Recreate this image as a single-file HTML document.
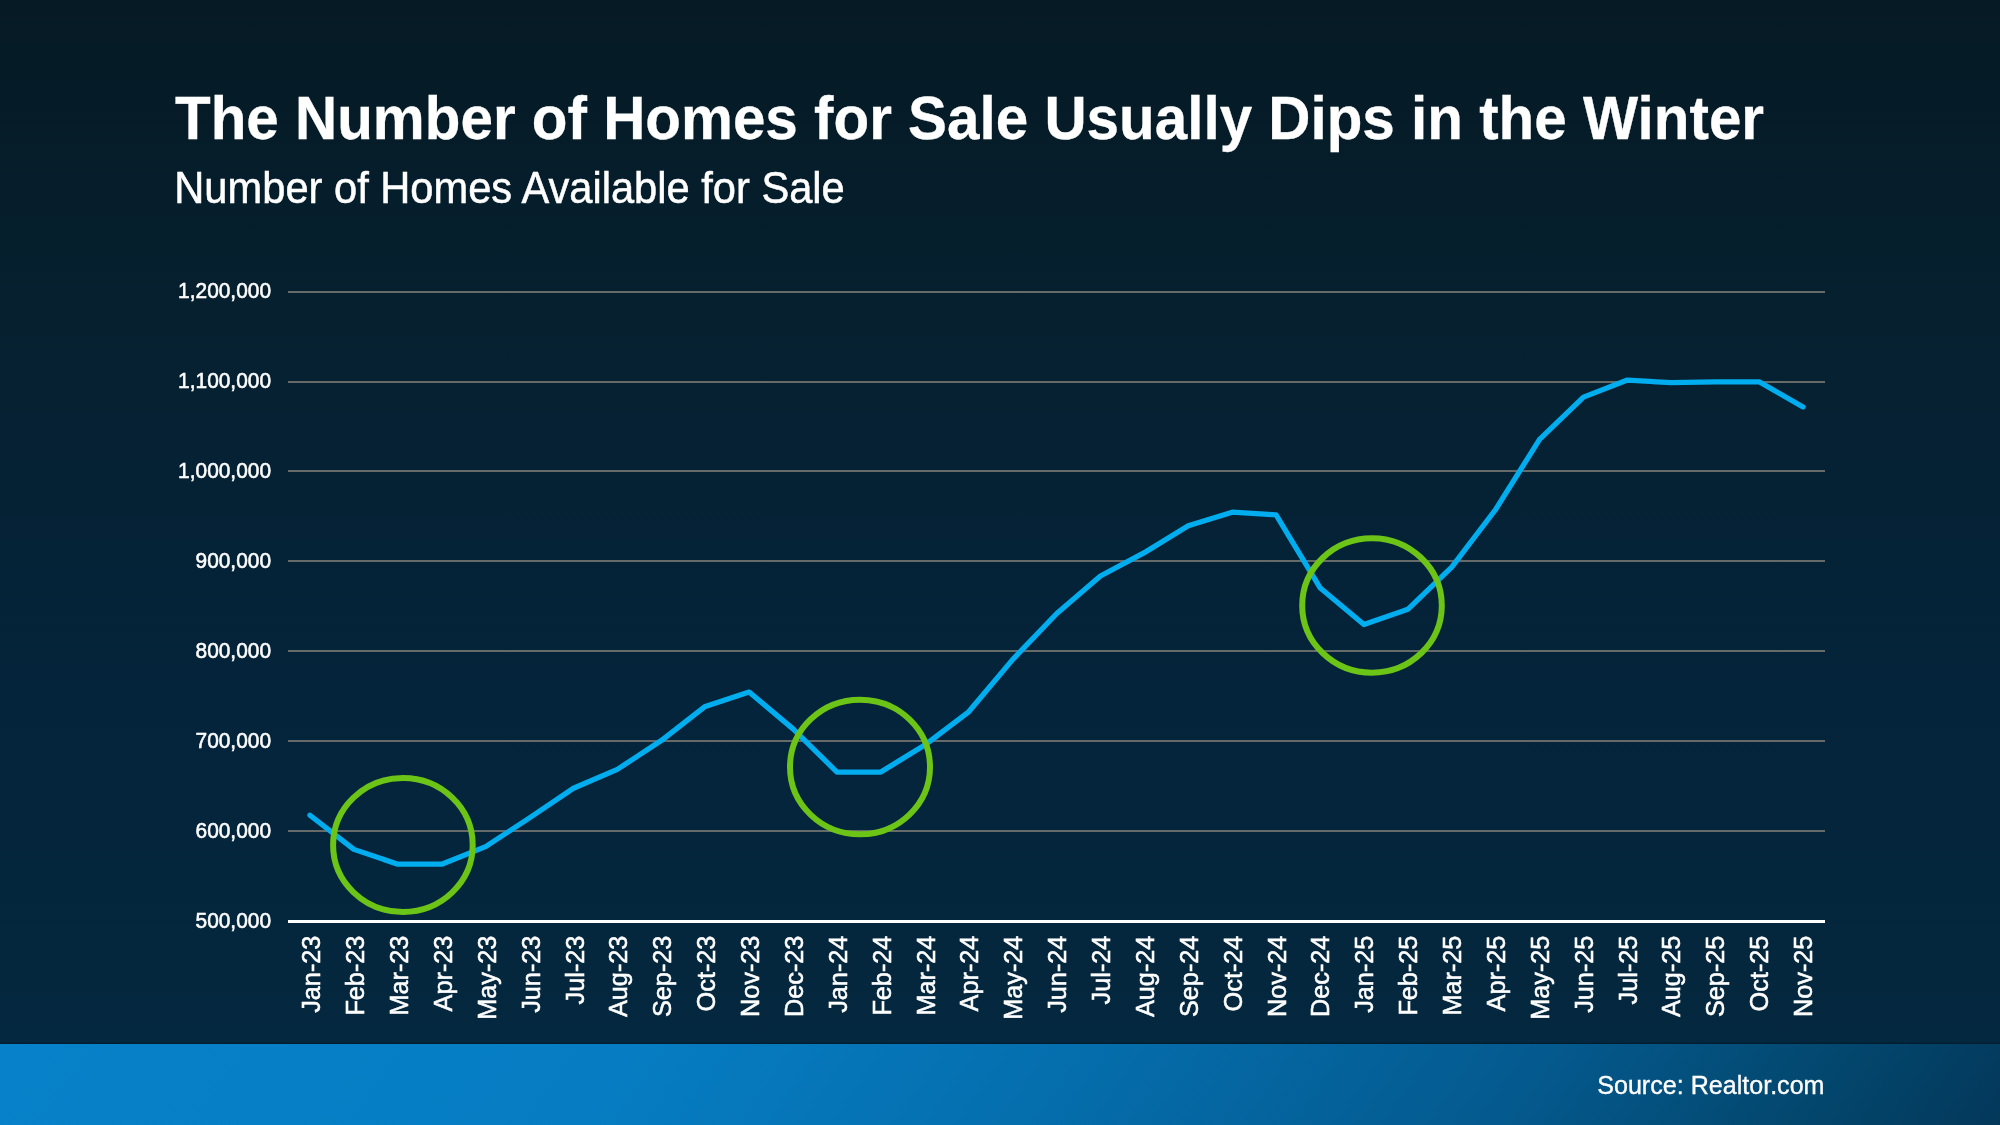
<!DOCTYPE html>
<html><head><meta charset="utf-8"><title>The Number of Homes for Sale Usually Dips in the Winter</title>
<style>
html,body{margin:0;padding:0;}
body{width:2000px;height:1125px;overflow:hidden;position:relative;
background:linear-gradient(180deg,#051a24 0px,#06202f 300px,#04243b 700px,#04283f 1044px);
font-family:"Liberation Sans",Arial,Helvetica,sans-serif;color:#fff;}
.bar{position:absolute;left:0;top:1044px;width:2000px;height:81px;
background:linear-gradient(125deg,#0781c9 0%,#067dc3 30%,#0570b0 50%,#045a8f 75%,#03476e 90%,#03385a 100%);
box-shadow:0 -1px 2px rgba(0,0,0,.35);}
svg{position:absolute;left:0;top:0;will-change:transform;}
text{fill:#fff;}
.t{font-weight:bold;font-size:58.4px;stroke:#fff;stroke-width:0.3px;}
.st{font-size:41.65px;stroke:#fff;stroke-width:0.5px;}
.yl{font-size:20.9px;text-anchor:end;stroke:#fff;stroke-width:0.55px;}
.xl{font-size:25.25px;text-anchor:end;stroke:#fff;stroke-width:0.55px;}
.g{stroke:#666a69;stroke-width:2;}
.ax{stroke:#fff;stroke-width:3;}
.ln{fill:none;stroke:#00adef;stroke-width:5.25;stroke-linejoin:round;stroke-linecap:round;}
.c{fill:none;stroke:#6cc417;stroke-width:6.0;}
.src{font-size:25.1px;text-anchor:end;stroke:#fff;stroke-width:0.35px;}
</style></head>
<body>
<div class="bar"></div>
<svg width="2000" height="1125" viewBox="0 0 2000 1125">
<text transform="translate(175,138.8) scale(1,1.04)" class="t">The Number of Homes for Sale Usually Dips in the Winter</text>
<text transform="translate(174.3,203) scale(1,1.065)" class="st">Number of Homes Available for Sale</text>
<line x1="288.0" x2="1825.0" y1="831.00" y2="831.00" class="g"/>
<line x1="288.0" x2="1825.0" y1="741.00" y2="741.00" class="g"/>
<line x1="288.0" x2="1825.0" y1="651.00" y2="651.00" class="g"/>
<line x1="288.0" x2="1825.0" y1="561.00" y2="561.00" class="g"/>
<line x1="288.0" x2="1825.0" y1="471.00" y2="471.00" class="g"/>
<line x1="288.0" x2="1825.0" y1="382.00" y2="382.00" class="g"/>
<line x1="288.0" x2="1825.0" y1="292.00" y2="292.00" class="g"/>
<line x1="288.0" x2="1825.0" y1="921.5" y2="921.5" class="ax"/>
<text transform="translate(271,927.50) scale(1,1.05)" class="yl">500,000</text>
<text transform="translate(271,837.61) scale(1,1.05)" class="yl">600,000</text>
<text transform="translate(271,747.73) scale(1,1.05)" class="yl">700,000</text>
<text transform="translate(271,657.84) scale(1,1.05)" class="yl">800,000</text>
<text transform="translate(271,567.96) scale(1,1.05)" class="yl">900,000</text>
<text transform="translate(271,478.07) scale(1,1.05)" class="yl">1,000,000</text>
<text transform="translate(271,388.19) scale(1,1.05)" class="yl">1,100,000</text>
<text transform="translate(271,298.30) scale(1,1.05)" class="yl">1,200,000</text>
<text transform="translate(320.36,935.6) rotate(-90) scale(1,1.0)" class="xl">Jan-23</text>
<text transform="translate(364.23,935.6) rotate(-90) scale(1,1.0)" class="xl">Feb-23</text>
<text transform="translate(408.10,935.6) rotate(-90) scale(1,1.0)" class="xl">Mar-23</text>
<text transform="translate(451.98,935.6) rotate(-90) scale(1,1.0)" class="xl">Apr-23</text>
<text transform="translate(495.85,935.6) rotate(-90) scale(1,1.0)" class="xl">May-23</text>
<text transform="translate(539.72,935.6) rotate(-90) scale(1,1.0)" class="xl">Jun-23</text>
<text transform="translate(583.60,935.6) rotate(-90) scale(1,1.0)" class="xl">Jul-23</text>
<text transform="translate(627.47,935.6) rotate(-90) scale(1,1.0)" class="xl">Aug-23</text>
<text transform="translate(671.34,935.6) rotate(-90) scale(1,1.0)" class="xl">Sep-23</text>
<text transform="translate(715.22,935.6) rotate(-90) scale(1,1.0)" class="xl">Oct-23</text>
<text transform="translate(759.09,935.6) rotate(-90) scale(1,1.0)" class="xl">Nov-23</text>
<text transform="translate(802.96,935.6) rotate(-90) scale(1,1.0)" class="xl">Dec-23</text>
<text transform="translate(846.83,935.6) rotate(-90) scale(1,1.0)" class="xl">Jan-24</text>
<text transform="translate(890.71,935.6) rotate(-90) scale(1,1.0)" class="xl">Feb-24</text>
<text transform="translate(934.58,935.6) rotate(-90) scale(1,1.0)" class="xl">Mar-24</text>
<text transform="translate(978.45,935.6) rotate(-90) scale(1,1.0)" class="xl">Apr-24</text>
<text transform="translate(1022.33,935.6) rotate(-90) scale(1,1.0)" class="xl">May-24</text>
<text transform="translate(1066.20,935.6) rotate(-90) scale(1,1.0)" class="xl">Jun-24</text>
<text transform="translate(1110.07,935.6) rotate(-90) scale(1,1.0)" class="xl">Jul-24</text>
<text transform="translate(1153.95,935.6) rotate(-90) scale(1,1.0)" class="xl">Aug-24</text>
<text transform="translate(1197.82,935.6) rotate(-90) scale(1,1.0)" class="xl">Sep-24</text>
<text transform="translate(1241.69,935.6) rotate(-90) scale(1,1.0)" class="xl">Oct-24</text>
<text transform="translate(1285.57,935.6) rotate(-90) scale(1,1.0)" class="xl">Nov-24</text>
<text transform="translate(1329.44,935.6) rotate(-90) scale(1,1.0)" class="xl">Dec-24</text>
<text transform="translate(1373.31,935.6) rotate(-90) scale(1,1.0)" class="xl">Jan-25</text>
<text transform="translate(1417.18,935.6) rotate(-90) scale(1,1.0)" class="xl">Feb-25</text>
<text transform="translate(1461.06,935.6) rotate(-90) scale(1,1.0)" class="xl">Mar-25</text>
<text transform="translate(1504.93,935.6) rotate(-90) scale(1,1.0)" class="xl">Apr-25</text>
<text transform="translate(1548.80,935.6) rotate(-90) scale(1,1.0)" class="xl">May-25</text>
<text transform="translate(1592.68,935.6) rotate(-90) scale(1,1.0)" class="xl">Jun-25</text>
<text transform="translate(1636.55,935.6) rotate(-90) scale(1,1.0)" class="xl">Jul-25</text>
<text transform="translate(1680.42,935.6) rotate(-90) scale(1,1.0)" class="xl">Aug-25</text>
<text transform="translate(1724.30,935.6) rotate(-90) scale(1,1.0)" class="xl">Sep-25</text>
<text transform="translate(1768.17,935.6) rotate(-90) scale(1,1.0)" class="xl">Oct-25</text>
<text transform="translate(1812.04,935.6) rotate(-90) scale(1,1.0)" class="xl">Nov-25</text>
<polyline points="309.96,815.20 353.87,849.37 397.79,864.20 441.70,864.20 485.61,846.67 529.53,817.90 573.44,788.23 617.36,769.34 661.27,740.57 705.19,706.40 749.10,692.02 793.01,728.88 836.93,772.04 880.84,772.04 924.76,745.07 968.67,711.80 1012.59,659.65 1056.50,613.79 1100.41,576.03 1144.33,552.65 1188.24,525.68 1232.16,512.19 1276.07,514.89 1319.99,587.72 1363.90,624.58 1407.81,609.30 1451.73,567.04 1495.64,509.49 1539.56,439.36 1583.47,397.10 1627.39,380.02 1671.30,382.71 1715.21,381.81 1759.13,381.81 1803.04,406.99" class="ln"/>
<ellipse cx="402.9" cy="845" rx="69.8" ry="66.9" class="c"/>
<ellipse cx="860" cy="767" rx="70" ry="67.3" class="c"/>
<ellipse cx="1372" cy="605.5" rx="69.8" ry="67.2" class="c"/>
<text transform="translate(1824.5,1094) scale(1,1.05)" class="src">Source: Realtor.com</text>
</svg>
</body></html>
